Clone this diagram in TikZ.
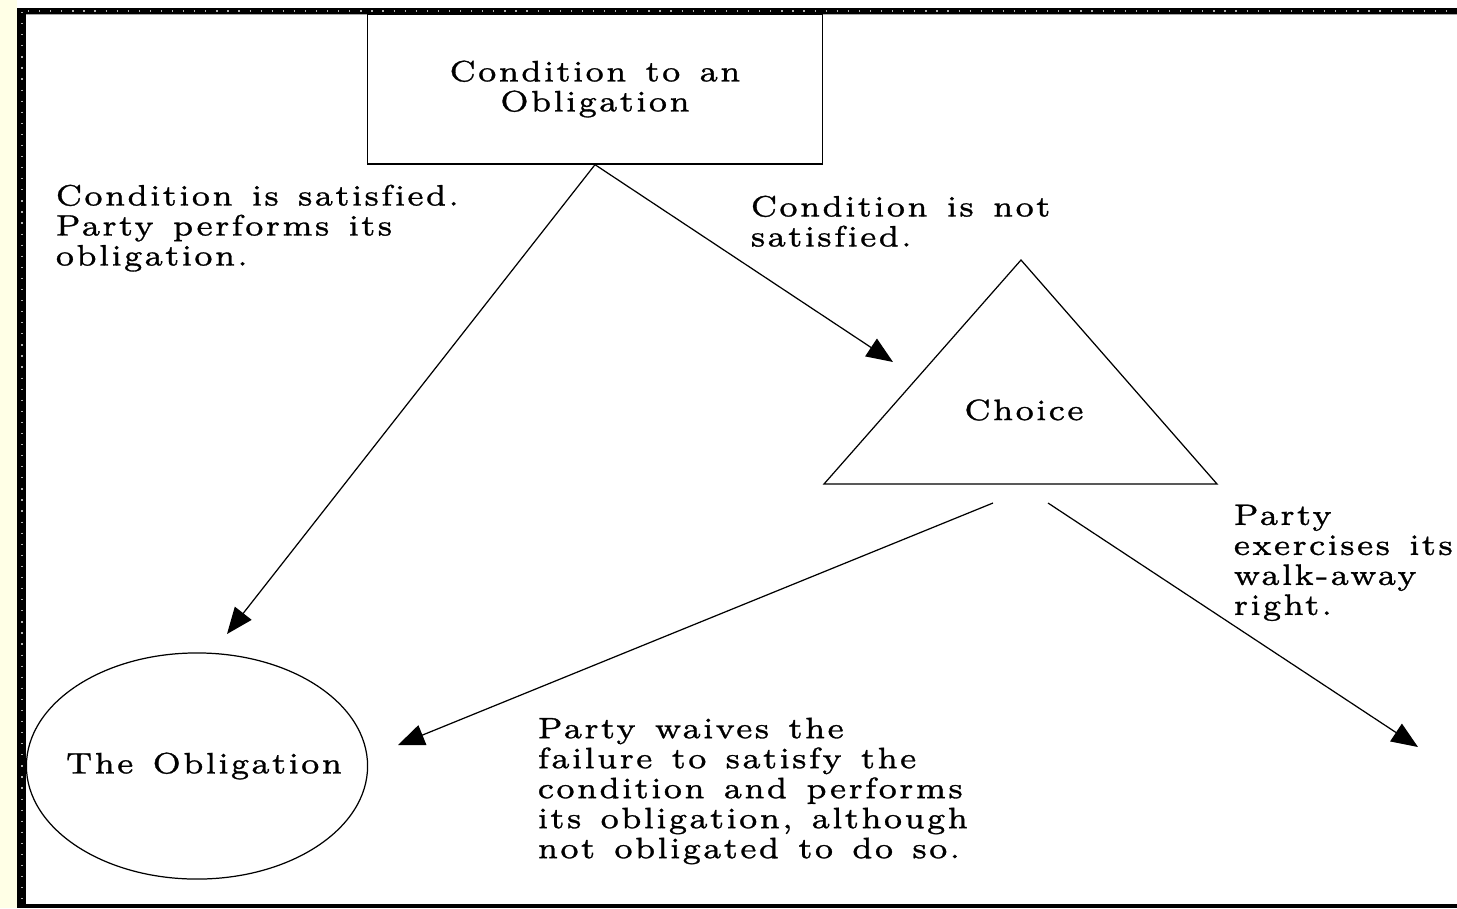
\documentclass[tikz,border=0pt]{standalone}
\usepackage{fontspec}
\setmainfont{lmroman7-regular.otf}[LetterSpace=7, WordSpace=1.3, Ligatures=NoCommon, FakeBold=1.0, FakeStretch=1.1]
\usetikzlibrary{arrows.meta,shapes.geometric}
\definecolor{stripyellow}{HTML}{FFFFE6}
\newcommand\spaced{\fontsize{8.4pt}{8.53pt}\selectfont}
\tikzset{
  lbl/.style={inner sep=0pt, font=\spaced, align=left, anchor=north west},
  arr/.style={line width=0.35pt, -{Triangle[length=7.5pt,width=6pt]}},
  shp/.style={draw, line width=0.35pt},
}
\begin{document}
\begin{tikzpicture}[x=0.01cm,y=-0.01cm]
\useasboundingbox (0,0) rectangle (1457,908);
\fill[white] (0,0) rectangle (1457,908);
% frame
\fill[stripyellow] (0,0) rectangle (17,908);
\fill[black] (17,8) rectangle (26,908);
\fill[black] (17,8) rectangle (1457,14);
\fill[black] (17,904) rectangle (1457,908);
\draw[gray!70, line width=0.3pt] (26,14.3) -- (1457,14.3);
\draw[gray!60, line width=0.35pt, dash pattern=on 0.35pt off 2.8pt] (22,12) -- (22,904);
\draw[gray!60, line width=0.35pt, dash pattern=on 0.35pt off 2.8pt] (28,11) -- (1457,11);
% shapes
\node[shp, minimum width=4.54cm, minimum height=1.5cm, inner sep=0pt, font=\spaced, align=center] (cond) at (595,89) {Condition to an\\Obligation};
\coordinate (tapex) at (1021,260);
\coordinate (tleft) at (824,484);
\coordinate (tright) at (1217,484);
\draw[shp] (tapex) -- (tleft) -- (tright) -- cycle;
\node[inner sep=0pt, font=\spaced] (choice) at (1024,410) {Choice};
\node[shp, ellipse, minimum width=3.41cm, minimum height=2.26cm, inner sep=0pt] (obl) at (197,766) {};
\node[inner sep=0pt, font=\spaced] (obltext) at (204,766) {The Obligation};
% labels
\node[lbl] (sat) at (55,184) {Condition is satisfied.\\Party performs its\\obligation.};
\node[lbl] (notsat) at (750,195) {Condition is not\\satisfied.};
\node[lbl] (waive) at (537,717) {Party waives the\\failure to satisfy the\\condition and performs\\its obligation, although\\not obligated to do so.};
\node[lbl] (walk) at (1233,504) {Party\\exercises its\\walk-away\\right.};
% connectors
\coordinate (e1) at (227,634);
\coordinate (e2) at (893,362);
\coordinate (s3) at (993,503);
\coordinate (e3) at (398,745);
\coordinate (s4) at (1048,503);
\coordinate (e4) at (1418,747);
\draw[arr] (cond.south) -- (e1);
\draw[arr] (cond.south) -- (e2);
\draw[arr] (s3) -- (e3);
\draw[arr] (s4) -- (e4);
\end{tikzpicture}
\end{document}
